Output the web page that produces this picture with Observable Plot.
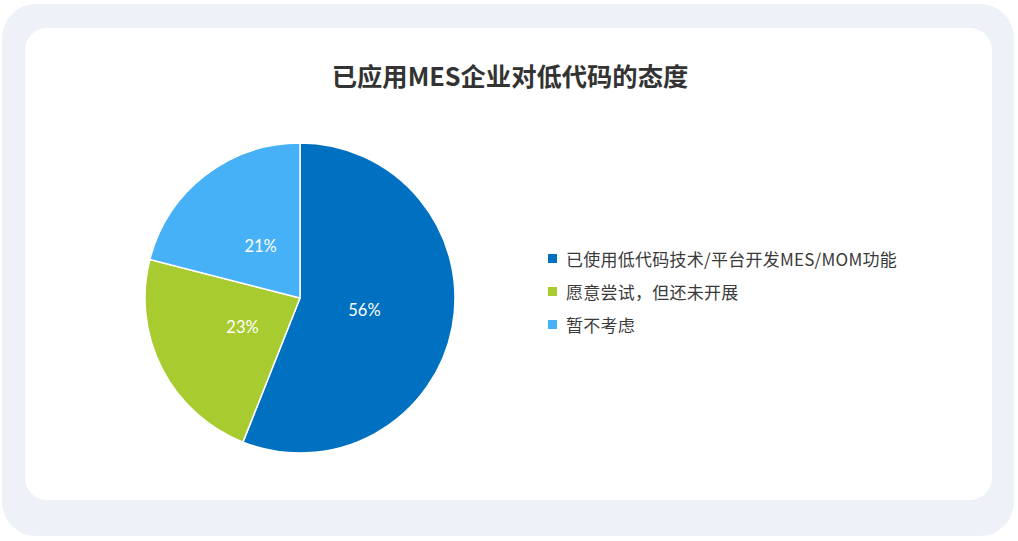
<!DOCTYPE html>
<html>
<head>
<meta charset="utf-8">
<script src="https://cdn.jsdelivr.net/npm/d3@7"></script>
<script src="https://cdn.jsdelivr.net/npm/@observablehq/plot@0.6"></script>
<style>
  html, body { margin: 0; padding: 0; background: #ffffff; }
  body { width: 1018px; height: 541px; position: relative; overflow: hidden;
         font-family: "Noto Sans CJK SC", "Noto Sans", sans-serif; }
  #outer { position: absolute; left: 2px; top: 4px; width: 1012px; height: 532px;
           border-radius: 34px; background: #EEF2F8; }
  #card { position: absolute; left: 25px; top: 28px; width: 967px; height: 472px;
          border-radius: 22px; background: #ffffff; }
  #title { position: absolute; left: 0; width: 1020px; top: 57px; text-align: center;
           font-size: 25.3px; font-weight: 700; color: #333333; line-height: 36px; }
  #pie { position: absolute; left: 130px; top: 128px; }
  #legend { position: absolute; left: 548px; top: 242px; }
  .item { display: flex; align-items: center; height: 33px; font-size: 17px;
          letter-spacing: 0.25px; color: #3a3a3a; }
  .sw { width: 9px; height: 9px; margin-right: 9px; }
</style>
</head>
<body>
<div id="outer"></div>
<div id="card"></div>
<div id="title"></div>
<div id="pie"></div>
<div id="legend"></div>
<script>
const titleText = "已应用MES企业对低代码的态度";
const categories = ["已使用低代码技术/平台开发MES/MOM功能", "愿意尝试，但还未开展", "暂不考虑"];
const values = [56, 23, 21];
const colors = ["#0070C0", "#A8CB2F", "#46B1F6"];

document.getElementById("title").textContent = titleText;

const rows = categories.map((c, i) => ({category: c, value: values[i], color: colors[i]}));
const arcs = d3.pie().sort(null).value(d => d.value)(rows);
const labelR = 0.42;
const labels = arcs.map(a => {
  const m = (a.startAngle + a.endAngle) / 2;
  return {x: labelR * Math.sin(m), y: labelR * Math.cos(m), text: a.data.value + "%"};
});

const pieMark = (index, scales) => {
  const g = d3.create("svg:g");
  const cx = scales.x(0), cy = scales.y(0);
  const R = Math.abs(scales.x(1) - scales.x(0));
  const arcGen = d3.arc().innerRadius(0).outerRadius(R);
  g.selectAll("path").data(arcs).join("path")
    .attr("transform", `translate(${cx},${cy})`)
    .attr("d", arcGen)
    .attr("fill", d => d.data.color)
    .attr("stroke", "#ffffff")
    .attr("stroke-width", 1.5)
    .attr("stroke-linejoin", "round");
  return g.node();
};

const chart = Plot.plot({
  width: 340,
  height: 340,
  margin: 15,
  x: {domain: [-1, 1], axis: null},
  y: {domain: [-1, 1], axis: null},
  marks: [
    pieMark,
    Plot.text(labels, {x: "x", y: "y", text: "text", fill: "#ffffff",
      fontSize: 16.5, fontFamily: "Lato, 'Noto Sans', sans-serif"})
  ]
});
chart.style.background = "transparent";
document.getElementById("pie").appendChild(chart);

const legend = d3.select("#legend");
rows.forEach(r => {
  const it = legend.append("div").attr("class", "item");
  it.append("div").attr("class", "sw").style("background", r.color);
  it.append("span").text(r.category);
});
</script>
</body>
</html>
